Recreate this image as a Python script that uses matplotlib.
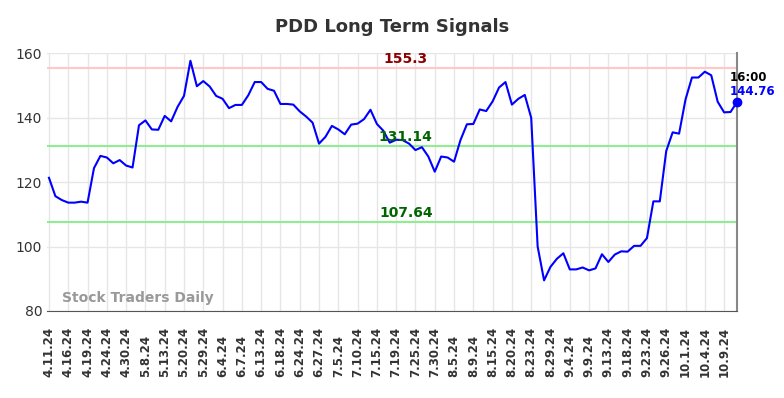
import matplotlib
matplotlib.use("Agg")
import matplotlib.pyplot as plt
from matplotlib.transforms import blended_transform_factory

# closing prices, one per trading session
prices = [
    121.3, 115.6, 114.4, 113.6, 113.6, 113.9, 113.6, 124.3, 128.1, 127.6,
    125.8, 126.8, 125.1, 124.5, 137.6, 139.1, 136.3, 136.2, 140.5, 138.8,
    143.3, 146.7, 157.6, 149.7, 151.3, 149.6, 146.7, 145.8, 142.9, 143.9,
    143.9, 146.9, 151.0, 151.0, 148.9, 148.3, 144.2, 144.2, 144.0, 141.9,
    140.3, 138.4, 131.9, 134.0, 137.4, 136.3, 134.8, 137.8, 138.1, 139.5,
    142.4, 138.0, 135.9, 132.2, 133.1, 133.0, 131.9, 129.9, 130.8, 127.9,
    123.2, 127.9, 127.6, 126.3, 133.0, 137.9, 138.0, 142.5, 142.0, 145.0,
    149.3, 151.0, 144.0, 145.8, 147.0, 139.9, 100.0, 89.5, 93.7, 96.2,
    97.9, 92.9, 92.9, 93.5, 92.6, 93.2, 97.6, 95.2, 97.5, 98.5,
    98.4, 100.2, 100.2, 102.6, 114.0, 114.0, 129.6, 135.4, 135.0, 145.6,
    152.4, 152.4, 154.2, 153.1, 144.9, 141.6, 141.7, 144.76,
]

tick_labels = [
    "4.11.24", "4.16.24", "4.19.24", "4.24.24", "4.30.24", "5.8.24",
    "5.13.24", "5.20.24", "5.29.24", "6.4.24", "6.7.24", "6.13.24",
    "6.18.24", "6.24.24", "6.27.24", "7.5.24", "7.10.24", "7.15.24",
    "7.19.24", "7.25.24", "7.30.24", "8.5.24", "8.9.24", "8.15.24",
    "8.20.24", "8.23.24", "8.29.24", "9.4.24", "9.9.24", "9.13.24",
    "9.18.24", "9.23.24", "9.26.24", "10.1.24", "10.4.24", "10.9.24",
]
tick_step = 3

resistance = 155.3
mid_level = 131.14
support = 107.64
last_time = "16:00"

fig = plt.figure(figsize=(7.84, 3.98), dpi=100)
ax = fig.add_axes([0.060, 0.2186, 0.880, 0.6482])

x = list(range(len(prices)))
ax.plot(x, prices, color="blue", lw=1.5, zorder=3)
ax.scatter([x[-1]], [prices[-1]], color="blue", s=36, zorder=4, clip_on=False)

ax.axhline(resistance, color="#ffc8c8", lw=1.5, zorder=2)
ax.axhline(mid_level, color="#90ee90", lw=1.5, zorder=2)
ax.axhline(support, color="#90ee90", lw=1.5, zorder=2)

mid_x = 55.5
ax.text(mid_x, resistance + 0.6, f"{resistance:g}", color="#8b0000",
        fontsize=10, fontweight="bold", ha="center", va="bottom")
ax.text(mid_x, mid_level + 0.6, f"{mid_level:g}", color="#006400",
        fontsize=10, fontweight="bold", ha="center", va="bottom")
ax.text(mid_x, support + 0.6, f"{support:g}", color="#006400",
        fontsize=10, fontweight="bold", ha="center", va="bottom")

ax.text(x[-1] - 1.2, prices[-1] + 7.6, last_time, color="black",
        fontsize=8.5, fontweight="bold", ha="left", va="center", clip_on=False)
ax.text(x[-1] - 1.2, prices[-1] + 3.2, f"{prices[-1]:.2f}", color="blue",
        fontsize=8.5, fontweight="bold", ha="left", va="center", clip_on=False)

ax.text(2, 82, "Stock Traders Daily", color="#999999", fontsize=10,
        fontweight="bold", ha="left", va="bottom")

ax.set_xlim(-0.3, len(prices) - 1)
ax.set_ylim(80, 160)
ax.set_yticks([80, 100, 120, 140, 160])
tick_pos = list(range(0, len(tick_labels) * tick_step, tick_step))
ax.set_xticks(tick_pos)
ax.set_xticklabels([])
# date labels sit bottom-aligned below the axis
trans = blended_transform_factory(ax.transData, ax.transAxes)
for pos, lab in zip(tick_pos, tick_labels):
    ax.text(pos, -0.256, lab, transform=trans, rotation=90, ha="center",
            va="bottom", fontsize=8.5, fontweight="bold", color="#333333")
ax.tick_params(axis="both", length=0, colors="#333333", labelsize=10)
ax.grid(True, color="#e6e6e6", lw=1, zorder=0)

for side in ["top", "left"]:
    ax.spines[side].set_visible(False)
ax.spines["bottom"].set_color("#555555")
ax.spines["right"].set_color("#888888")
ax.spines["right"].set_linewidth(1.5)

fig.suptitle("PDD Long Term Signals", x=0.5, y=0.955, fontsize=13,
             fontweight="bold", color="#333333")

fig.savefig("out.png", dpi=100)
